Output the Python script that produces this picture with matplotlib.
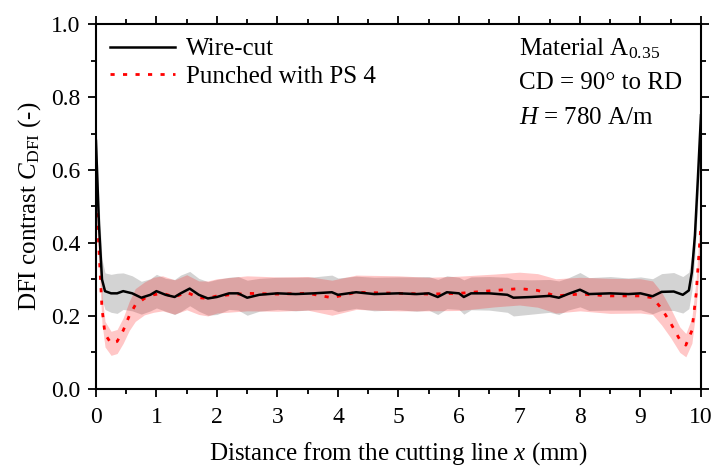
import matplotlib
matplotlib.use("Agg")
import matplotlib.pyplot as plt
import numpy as np

# wire-cut sample: mean contrast and spread
wire_x = [0.0, 0.05, 0.1, 0.15, 0.25, 0.35, 0.45, 0.6, 0.75, 0.9,
          1.0, 1.15, 1.3, 1.4, 1.55, 1.7, 1.85, 2.0, 2.2, 2.35,
          2.5, 2.7, 3.0, 3.3, 3.6, 3.9, 4.0, 4.3, 4.6, 5.0,
          5.3, 5.5, 5.65, 5.8, 6.0, 6.08, 6.2, 6.5, 6.8, 6.9,
          7.2, 7.5, 7.65, 7.8, 8.0, 8.15, 8.5, 8.8, 9.0, 9.2,
          9.35, 9.55, 9.7, 9.8, 9.85, 9.9, 9.95, 10.0]
wire_y = [0.68, 0.45, 0.30, 0.268, 0.262, 0.262, 0.268, 0.262, 0.250, 0.258,
          0.268, 0.258, 0.252, 0.262, 0.275, 0.258, 0.248, 0.252, 0.262, 0.262,
          0.250, 0.258, 0.262, 0.260, 0.262, 0.265, 0.258, 0.265, 0.260, 0.262,
          0.260, 0.262, 0.252, 0.265, 0.262, 0.252, 0.262, 0.262, 0.258, 0.250,
          0.252, 0.255, 0.250, 0.260, 0.272, 0.260, 0.262, 0.260, 0.262, 0.254,
          0.266, 0.267, 0.258, 0.270, 0.32, 0.42, 0.58, 0.75]
wire_sd = [0.06, 0.06, 0.055, 0.05, 0.052, 0.055, 0.05, 0.048, 0.045, 0.044,
           0.046, 0.045, 0.048, 0.05, 0.047, 0.045, 0.046, 0.048, 0.044, 0.046,
           0.048, 0.045, 0.044, 0.046, 0.045, 0.047, 0.046, 0.044, 0.046, 0.045,
           0.047, 0.046, 0.048, 0.045, 0.044, 0.047, 0.045, 0.046, 0.048, 0.05,
           0.047, 0.045, 0.046, 0.044, 0.047, 0.045, 0.046, 0.044, 0.045, 0.048,
           0.05, 0.052, 0.05, 0.05, 0.05, 0.055, 0.06, 0.06]

# punched sample (PS 4)
punch_x = [0.0, 0.05, 0.1, 0.15, 0.25, 0.35, 0.45, 0.55, 0.65, 0.8,
           0.95, 1.1, 1.3, 1.5, 1.7, 1.85, 2.0, 2.5, 3.0, 3.5,
           3.9, 4.3, 5.0, 5.5, 6.0, 6.6, 7.0, 7.3, 7.6, 8.0,
           8.5, 9.0, 9.2, 9.35, 9.5, 9.65, 9.75, 9.85, 9.92, 10.0]
punch_y = [0.55, 0.38, 0.22, 0.15, 0.125, 0.13, 0.16, 0.20, 0.23, 0.248,
           0.258, 0.262, 0.252, 0.265, 0.25, 0.248, 0.255, 0.262, 0.26, 0.262,
           0.25, 0.265, 0.262, 0.26, 0.262, 0.27, 0.275, 0.27, 0.255, 0.26,
           0.255, 0.255, 0.25, 0.22, 0.18, 0.135, 0.12, 0.16, 0.26, 0.45]
punch_sd = [0.05, 0.045, 0.04, 0.035, 0.033, 0.033, 0.035, 0.04, 0.045, 0.045,
            0.048, 0.048, 0.047, 0.048, 0.046, 0.048, 0.047, 0.048, 0.047, 0.046,
            0.048, 0.047, 0.048, 0.046, 0.047, 0.045, 0.045, 0.046, 0.047, 0.046,
            0.048, 0.047, 0.046, 0.045, 0.04, 0.035, 0.032, 0.035, 0.04, 0.05]

plt.rcParams["font.family"] = "Liberation Serif"
plt.rcParams["mathtext.fontset"] = "custom"
plt.rcParams["mathtext.rm"] = "Liberation Serif"
plt.rcParams["mathtext.it"] = "Liberation Serif:italic"

fig = plt.figure(figsize=(7.16, 4.72), dpi=100)
ax = fig.add_axes([0.134, 0.176, 0.845, 0.773])

wx, wy, ws = np.array(wire_x), np.array(wire_y), np.array(wire_sd)
px, py, ps = np.array(punch_x), np.array(punch_y), np.array(punch_sd)

ax.fill_between(wx, wy - ws, wy + ws, color="#d3d3d3", lw=0)
ax.fill_between(px, py - ps, py + ps, color="red", alpha=0.22, lw=0)
ax.plot(px, py, color="red", ls=(0, (1.5, 3)), lw=2, label="Punched with PS 4")
ax.plot(wx, wy, color="black", lw=1.8, label="Wire-cut")

ax.set_xlim(0, 10)
ax.set_ylim(0, 1)
ax.set_xticks(range(0, 11))
ax.set_xticks(np.arange(0.5, 10, 1), minor=True)
ax.set_yticks([0.0, 0.2, 0.4, 0.6, 0.8, 1.0])
ax.set_yticklabels(["0.0", "0.2", "0.4", "0.6", "0.8", "1.0"])
ax.set_yticks([0.1, 0.3, 0.5, 0.7, 0.9], minor=True)
ax.tick_params(which="both", direction="out", top=True, right=True,
               labeltop=False, labelright=False, width=1.3, labelsize=17)
ax.tick_params(axis="x", which="both", pad=7)
ax.tick_params(axis="y", which="both", pad=5)
ax.tick_params(which="major", length=6)
ax.tick_params(which="minor", length=3.5)
for s in ax.spines.values():
    s.set_linewidth(1.5)

ax.set_xlabel("Distance from the cutting line $x$ (mm)", fontsize=18, labelpad=9)
ax.set_ylabel("DFI contrast $C_{\\mathrm{DFI}}$ (-)", fontsize=18, labelpad=6)

h, l = ax.get_legend_handles_labels()
ax.legend(h[::-1], l[::-1], loc="upper left", frameon=False, fontsize=18,
          handlelength=2.6, handletextpad=0.45, borderaxespad=0.25,
          labelspacing=0.2, borderpad=0.3)

ax.text(0.699, 0.965, "Material A$_{0.35}$", transform=ax.transAxes,
        fontsize=18, va="top")
ax.text(0.699, 0.868, "CD = 90° to RD", transform=ax.transAxes,
        fontsize=18, va="top")
ax.text(0.699, 0.772, "$H$ = 780 A/m", transform=ax.transAxes,
        fontsize=18, va="top")

fig.savefig("out.png", dpi=100)
